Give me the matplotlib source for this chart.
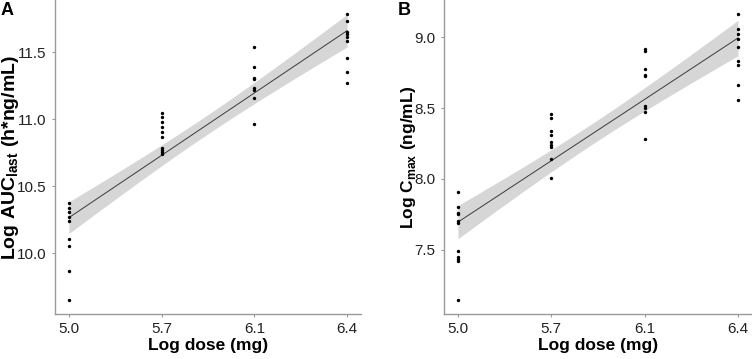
import numpy as np
import matplotlib
matplotlib.use("Agg")
import matplotlib.pyplot as plt

plt.rcParams['font.family'] = ['Liberation Sans', 'DejaVu Sans']

dose_labels = ["5.0", "5.7", "6.1", "6.4"]

# Log AUClast values per dose group
auc_50 = [10.373, 10.334, 10.307, 10.272, 10.237, 10.103, 10.051, 9.865, 9.652]
auc_57 = [11.046, 11.014, 10.979, 10.945, 10.907, 10.868, 10.786, 10.769, 10.754, 10.741]
auc_61 = [11.542, 11.386, 11.310, 11.300, 11.230, 11.220, 11.158, 10.965]
auc_64 = [11.783, 11.733, 11.651, 11.634, 11.617, 11.587, 11.453, 11.354, 11.267]

# Log Cmax values per dose group
cmax_50 = [7.905, 7.805, 7.762, 7.750, 7.703, 7.690, 7.492, 7.450, 7.435, 7.420, 7.148]
cmax_57 = [8.461, 8.428, 8.341, 8.309, 8.262, 8.241, 8.224, 8.142, 8.004]
cmax_61 = [8.916, 8.906, 8.775, 8.735, 8.726, 8.517, 8.501, 8.473, 8.283]
cmax_64 = [9.162, 9.056, 9.023, 8.986, 8.930, 8.834, 8.801, 8.665, 8.559]

auc_groups = [auc_50, auc_57, auc_61, auc_64]
cmax_groups = [cmax_50, cmax_57, cmax_61, cmax_64]

T_975 = 2.03  # t quantile, ~34 df


def panel(ax, groups, yticks, ylabel, ylab_x, ylab_size):
    x = np.concatenate([np.full(len(g), i) for i, g in enumerate(groups)]).astype(float)
    y = np.concatenate([np.array(g) for g in groups])
    n = len(x)
    slope, icpt = np.polyfit(x, y, 1)
    resid = y - (icpt + slope * x)
    s = np.sqrt(np.sum(resid ** 2) / (n - 2))
    xm = x.mean()
    sxx = np.sum((x - xm) ** 2)
    xs = np.linspace(0, len(groups) - 1, 100)
    fit = icpt + slope * xs
    se = s * np.sqrt(1.0 / n + (xs - xm) ** 2 / sxx)
    ax.fill_between(xs, fit - T_975 * se, fit + T_975 * se, color='#d6d6d6', lw=0, zorder=1)
    ax.plot(xs, fit, color='#3a3a3a', lw=0.7, zorder=2)
    ax.scatter(x, y, s=6, color='black', zorder=3, linewidths=0)

    rng = y.max() - y.min()
    ax.set_ylim(y.min() - 0.05 * rng, y.max() + 0.05 * rng)
    ax.set_xlim(-0.15, len(groups) - 1 + 0.15)
    ax.set_xticks(range(len(groups)))
    ax.set_xticklabels(dose_labels)
    ax.set_yticks(yticks)
    ax.set_yticklabels(["%.1f" % v for v in yticks])
    for sp in ['top', 'right']:
        ax.spines[sp].set_visible(False)
    for sp in ['left', 'bottom']:
        ax.spines[sp].set_color('#9a9a9a')
        ax.spines[sp].set_linewidth(1.0)
    ax.tick_params(colors='#9a9a9a', length=2.5, width=0.8, labelcolor='#222222', labelsize=11)
    ax.set_xlabel("Log dose (mg)", fontsize=12.5, fontweight='bold')
    ax.set_ylabel(ylabel, fontsize=ylab_size, fontweight='bold')
    ax.xaxis.set_label_coords(0.5, -0.075)
    ax.yaxis.set_label_coords(ylab_x, 0.5)


fig = plt.figure(figsize=(7.52, 3.59), dpi=100)
axA = fig.add_axes([55 / 752, 45 / 359, 306 / 752, 314 / 359])
axB = fig.add_axes([444 / 752, 45 / 359, 308 / 752, 314 / 359])

panel(axA, auc_groups, [10.0, 10.5, 11.0, 11.5],
      r'Log AUC$_{\mathregular{last}}$ (h*ng/mL)', -0.112, 14)
panel(axB, cmax_groups, [7.5, 8.0, 8.5, 9.0],
      r'Log C$_{\mathregular{max}}$ (ng/mL)', -0.086, 12.5)

fig.text(1 / 752, 1 - 2 / 359, 'A', fontsize=13, fontweight='bold', va='top', ha='left')
fig.text(398 / 752, 1 - 2 / 359, 'B', fontsize=13, fontweight='bold', va='top', ha='left')

fig.savefig("out.png", dpi=100)
